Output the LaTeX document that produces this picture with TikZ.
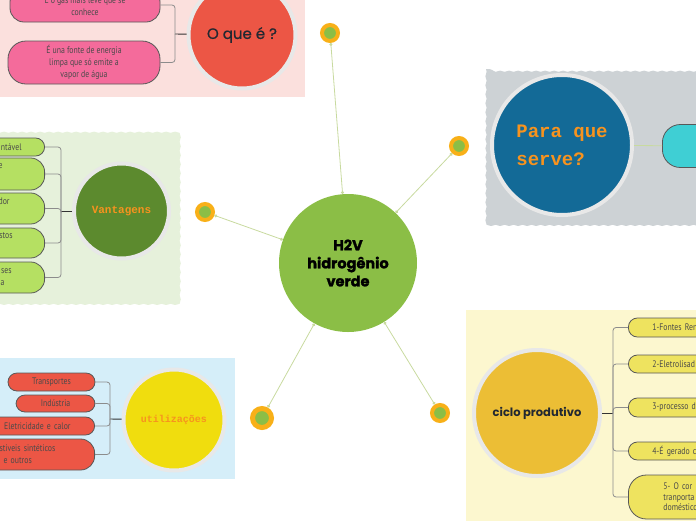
\documentclass[tikz,border=0pt]{standalone}
\usepackage{fontspec}
\setmainfont{PT Sans}
\newfontfamily\leaffont[FakeStretch=0.82]{PT Sans}
\newfontfamily\hubfont{Poppins}
\newfontfamily\typefont{Liberation Mono}
\usetikzlibrary{arrows.meta, positioning, decorations.pathmorphing}
\definecolor{hubgreen}{HTML}{8BBE46}
\definecolor{dotorange}{HTML}{F8B018}
\definecolor{linkgreen}{HTML}{C8DA9F}
\definecolor{ringgray}{HTML}{E8E8E8}
\definecolor{treegray}{HTML}{8C8C8C}
\definecolor{leafline}{HTML}{585858}
\definecolor{leaftext}{HTML}{4A4A4A}
\definecolor{pinkbg}{HTML}{FBE0DD}
\definecolor{pinkleaf}{HTML}{F46B9B}
\definecolor{redtopic}{HTML}{EC5645}
\definecolor{greenbg}{HTML}{E6F1DB}
\definecolor{greenleaf}{HTML}{B5E062}
\definecolor{greentopic}{HTML}{5C8A2E}
\definecolor{bluebg}{HTML}{D5EEF9}
\definecolor{redleaf}{HTML}{EC5645}
\definecolor{yellowtopic}{HTML}{F0DD0E}
\definecolor{graybg}{HTML}{CDD2D5}
\definecolor{bluetopic}{HTML}{136A97}
\definecolor{cyanleaf}{HTML}{3FCFD4}
\definecolor{creambg}{HTML}{FCF7CF}
\definecolor{goldtopic}{HTML}{ECBE35}
\definecolor{yellowleaf}{HTML}{EEE35F}
\definecolor{labelorange}{HTML}{F7931E}
\definecolor{darktext}{HTML}{222831}
\tikzset{
  hubnode/.style  = {circle, fill=hubgreen, minimum size=138pt, inner sep=0pt,
                     font=\hubfont\bfseries\addfontfeature{FakeBold=1.5}\fontsize{14.5}{18}\selectfont,
                     align=center},
  topic/.style    = {circle, draw=ringgray, line width=4pt, inner sep=0pt, align=center},
  toptype/.style  = {text=labelorange, font=\typefont\bfseries\fontsize{#1}{28}\selectfont},
  tophand/.style  = {text=darktext, font=\hubfont\addfontfeature{FakeBold=0.8}\fontsize{#1}{#1}\selectfont},
  dotnode/.style  = {circle, fill=hubgreen, draw=dotorange, line width=4pt,
                     minimum size=16pt, inner sep=0pt},
  link/.style     = {draw=linkgreen, line width=0.8pt,
                     {Circle[length=3pt]}-{Circle[length=3pt]}},
  leaf/.style     = {draw=leafline, line width=0.8pt, rounded corners=9pt,
                     font=\leaffont\fontsize{9.5}{12}\selectfont, text=leaftext,
                     inner ysep=0pt},
  westleaf/.style = {leaf, anchor=east, align=right, text width=#1},
  eastleaf/.style = {leaf, anchor=west, align=left, text width=#1},
  twig/.style     = {draw=treegray, line width=0.8pt, rounded corners=3pt},
  stem/.style     = {draw=black!80, line width=0.9pt},
  wavy/.style     = {decorate, decoration={snake, segment length=9pt, amplitude=0.6pt}},
}
\begin{document}
\begin{tikzpicture}[x=1pt, y=-1pt]
\useasboundingbox (0,0) rectangle (696,520);
\clip (0,0) rectangle (696,520);
\fill[pinkbg] (-10,-10) rectangle (305,97);
\fill[greenbg, wavy] (-10,130) rectangle (180,300);
\fill[bluebg] (-10,358) rectangle (235,479);
\fill[graybg, wavy] (486,69) rectangle (710,223);
\fill[creambg] (466,310) rectangle (710,530);

\node[hubnode] (hub) at (348,263) {H2V\\hidrogênio\\verde};
\node[dotnode] (d1) at (330,33) {};
\node[dotnode] (d2) at (459,146) {};
\node[dotnode] (d3) at (205,212) {};
\node[dotnode, minimum size=19pt, line width=5pt] (d4) at (262,418) {};
\node[dotnode] (d5) at (440,413) {};
\foreach \d in {d1,d2,d3,d4,d5}
  \draw[link] (hub) -- (\d);

\node[topic, fill=redtopic, minimum size=107pt, tophand=15] (whatis) at (242,35) {O que é ?};
\node[leaf, fill=pinkleaf, minimum width=150pt, minimum height=34pt,
      rounded corners=14pt, align=center] (wq1) at (85,5)
     {É o gás mais leve que se\\conhece};
\node[leaf, fill=pinkleaf, minimum width=152pt, minimum height=43pt,
      rounded corners=18pt, align=center] (wq2) at (84,62.5)
     {É una fonte de energia\\limpa que só emite a\\vapor de água};
\coordinate (wqj) at (175,34);
\draw[stem] (whatis) -- (wqj);
\foreach \l in {wq1,wq2}
  \draw[twig] (\l) -| (wqj);

\node[topic, fill=greentopic, minimum size=95pt, toptype=11] (pros) at (121.5,211) {Vantagens};
\node[westleaf=60pt, fill=greenleaf, minimum height=18pt, inner xsep=23pt] (vt1) at (45,147) {ntável};
\node[westleaf=60pt, fill=greenleaf, minimum height=32pt, inner xsep=42pt,
      rounded corners=14pt] (vt2) at (45,174) {e\\\strut};
\node[westleaf=60pt, fill=greenleaf, minimum height=31pt, inner xsep=35pt,
      rounded corners=14pt] (vt3) at (45,208.5) {dor\\\strut};
\node[westleaf=60pt, fill=greenleaf, minimum height=30pt, inner xsep=32pt,
      rounded corners=14pt] (vt4) at (45,243) {stos\\\strut};
\node[westleaf=60pt, fill=greenleaf, minimum height=31pt, inner xsep=33pt,
      rounded corners=14pt] (vt5) at (45,277.5) {ses\\a\hspace*{7pt}};
\coordinate (vtj) at (61,211);
\draw[stem] (pros) -- (vtj);
\foreach \l in {vt1,vt2,vt3,vt4,vt5}
  \draw[twig] (\l) -| (vtj);

\node[topic, fill=yellowtopic, minimum size=101pt, toptype=10] (uses) at (174,420) {utilizações};
\node[leaf, fill=redleaf, minimum width=87pt, minimum height=18pt] (ut1) at (51.5,382) {Transportes};
\node[leaf, fill=redleaf, minimum width=79pt, minimum height=17pt] (ut2) at (55.5,403.5) {Indústria};
\node[westleaf=75pt, fill=redleaf, minimum height=18pt, inner xsep=24pt] (ut3) at (95,426)
     {Eletricidade e calor};
\node[leaf, anchor=east, align=left, text width=64pt, fill=redleaf, minimum height=31pt,
      inner xsep=31pt, rounded corners=14pt] (ut4) at (95,454.5)
     {stiveis sintéticos\\\hspace*{4pt}e outros};
\coordinate (utj) at (110,419);
\draw[stem] (uses) -- (utj);
\foreach \l in {ut1,ut2,ut3,ut4}
  \draw[twig] (\l) -| (utj);

\node[topic, fill=bluetopic, minimum size=140pt, toptype=19, align=left] (purpose) at (562,145)
     {Para que\\serve?};
\node[leaf, fill=cyanleaf, anchor=west, minimum width=80pt, minimum height=43pt,
      rounded corners=18pt] (ps1) at (662,146) {};
\draw[draw=linkgreen, line width=0.8pt] (purpose) -- (ps1);

\node[topic, fill=goldtopic, minimum size=126pt, text=darktext,
      font=\hubfont\bfseries\fontsize{11.5}{12}\selectfont]
     (cycle) at (537,413) {ciclo produtivo};
\node[eastleaf=60pt, fill=yellowleaf, minimum height=19pt, inner xsep=24pt] (cp1) at (628,327.5) {1-Fontes Ren};
\node[eastleaf=60pt, fill=yellowleaf, minimum height=18pt, inner xsep=24pt] (cp2) at (628,364) {2-Eletrolisad};
\node[eastleaf=60pt, fill=yellowleaf, minimum height=19pt, inner xsep=24pt] (cp3) at (628,407.5) {3-processo d};
\node[eastleaf=60pt, fill=yellowleaf, minimum height=18pt, inner xsep=24pt] (cp4) at (628,451) {4-É gerado c};
\node[eastleaf=60pt, fill=yellowleaf, minimum height=44pt, inner xsep=35pt,
      rounded corners=18pt, font=\leaffont\fontsize{9.5}{10.5}\selectfont] (cp5) at (628,497)
     {5- O cor\\tranporta\\doméstico};
\coordinate (cpj) at (613,413);
\draw[stem] (cycle) -- (cpj);
\foreach \l in {cp1,cp2,cp3,cp4,cp5}
  \draw[twig] (\l) -| (cpj);
\end{tikzpicture}
\end{document}
